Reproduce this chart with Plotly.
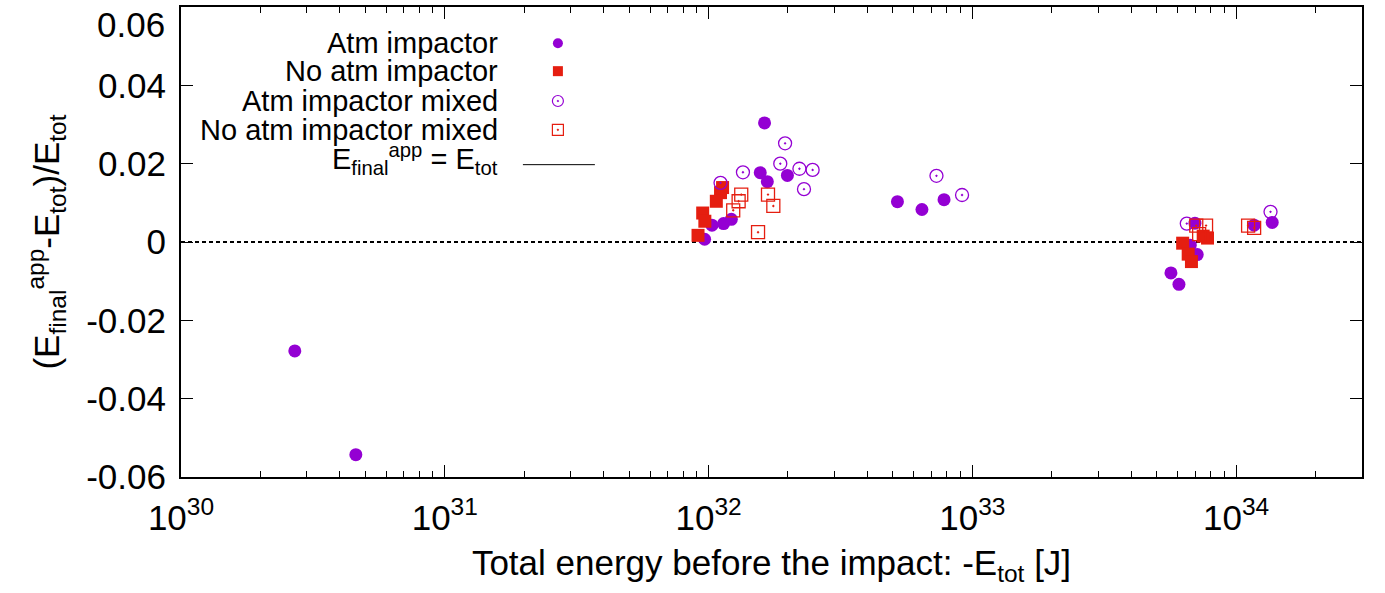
import plotly.graph_objects as go
import numpy as np

PURPLE = "#9400d3"
RED = "#e51e10"

# Atm impactor (filled circles)
atm_x = [2.7e30, 4.6e30, 1.63e32, 1.57e32, 1.67e32, 1.99e32, 1.03e32, 1.14e32, 1.22e32, 9.66e31,
         5.2e32, 6.44e32, 7.81e32,
         5.66e33, 6.07e33, 7.12e33, 6.98e33, 6.7e33, 1.37e34, 1.17e34]
atm_y = [-0.0278, -0.0543, 0.0304, 0.0177, 0.0154, 0.0170, 0.0043, 0.0047, 0.0058, 0.0007,
         0.0103, 0.0083, 0.0108,
         -0.0079, -0.0108, -0.0032, 0.0048, -0.0008, 0.0050, 0.0043]

# No atm impactor (filled squares)
noatm_x = [1.13e32, 1.11e32, 1.07e32, 9.5e31, 9.68e31, 9.12e31,
           6.27e33, 6.58e33, 6.77e33, 7.79e33, 7.5e33]
noatm_y = [0.0139, 0.0126, 0.0104, 0.0074, 0.0053, 0.0017,
           -0.0003, -0.0031, -0.0050, 0.0010, 0.0015]

# Atm impactor mixed (open circles)
atmmix_x = [1.95e32, 1.87e32, 2.21e32, 2.48e32, 2.30e32, 1.35e32, 1.11e32,
            7.31e32, 9.14e32,
            6.5e33, 1.35e34]
atmmix_y = [0.0252, 0.0200, 0.0187, 0.0184, 0.0135, 0.0178, 0.0151,
            0.0169, 0.0120,
            0.0047, 0.0077]

# No atm impactor mixed (open squares)
noatmmix_x = [1.33e32, 1.30e32, 1.24e32, 1.68e32, 1.76e32, 1.54e32,
              7.06e33, 7.69e33, 7.24e33, 1.11e34, 1.17e34]
noatmmix_y = [0.0121, 0.0104, 0.0081, 0.0121, 0.0092, 0.0025,
              0.0042, 0.0042, 0.0020, 0.0042, 0.0036]

y_ticks = [0.06, 0.04, 0.02, 0, -0.02, -0.04, -0.06]
y_ticktext = ["0.06", "0.04", "0.02", "0", "-0.02", "-0.04", "-0.06"]
x_exps = [30, 31, 32, 33, 34]

legend_labels = ["Atm impactor", "No atm impactor", "Atm impactor mixed", "No atm impactor mixed",
                 "E<sub>final</sub><sup>app</sup> = E<sub>tot</sub>"]

FONT = "Liberation Sans, Arial, sans-serif"
FS = 35
LFS = 29

# plot area in pixels
W, H = 1385, 593
L, R, T, B = 181, 1362.3, 4.5, 477
PW, PH = R - L, B - T

fig = go.Figure()

fig.add_trace(go.Scatter(x=atm_x, y=atm_y, mode="markers", name="Atm impactor",
                         marker=dict(symbol="circle", size=13, color=PURPLE, line=dict(width=0))))
fig.add_trace(go.Scatter(x=noatm_x, y=noatm_y, mode="markers", name="No atm impactor",
                         marker=dict(symbol="square", size=13, color=RED, line=dict(width=0))))
fig.add_trace(go.Scatter(x=atmmix_x, y=atmmix_y, mode="markers", name="Atm impactor mixed",
                         marker=dict(symbol="circle-open-dot", size=13, color=PURPLE, line=dict(width=1.3, color=PURPLE))))
fig.add_trace(go.Scatter(x=noatmmix_x, y=noatmmix_y, mode="markers", name="No atm impactor mixed",
                         marker=dict(symbol="square-open-dot", size=13, color=RED, line=dict(width=1.3, color=RED))))

# zero line
fig.add_shape(type="line", xref="paper", x0=0, x1=1, yref="y", y0=0, y1=0,
              line=dict(color="black", width=1.8, dash="4px,3px"), layer="below")

# custom legend on overlay pixel axes
leg_rows = [41, 69, 99, 128, 163]
leg_sym_x = 558
leg_styles = [
    dict(symbol="circle", size=10, color=PURPLE, line=dict(width=0)),
    dict(symbol="square", size=10, color=RED, line=dict(width=0)),
    dict(symbol="circle-open-dot", size=11, color=PURPLE, line=dict(width=1.2, color=PURPLE)),
    dict(symbol="square-open-dot", size=11, color=RED, line=dict(width=1.2, color=RED)),
]
for i, st in enumerate(leg_styles):
    fig.add_trace(go.Scatter(x=[leg_sym_x], y=[leg_rows[i]], xaxis="x2", yaxis="y2",
                             mode="markers", marker=st, showlegend=False, hoverinfo="skip"))
for i, lab in enumerate(legend_labels):
    fig.add_annotation(x=500, y=leg_rows[i] if i < 4 else leg_rows[i] - 6, xref="x2", yref="y2",
                       text=lab, showarrow=False, xanchor="right", yanchor="middle",
                       font=dict(family=FONT, size=LFS, color="black"))
fig.add_shape(type="line", xref="x2", yref="y2", x0=523, x1=595, y0=leg_rows[4], y1=leg_rows[4],
              line=dict(color="black", width=1))

# top y tick label (shifted down so it stays inside the page)
fig.add_annotation(x=(166 - L) / PW, y=(B - 1) / PH, xref="paper", yref="paper", text=y_ticktext[0],
                   showarrow=False, xanchor="right", yanchor="top", borderpad=0,
                   font=dict(family=FONT, size=FS, color="black"))

fig.update_layout(
    width=W, height=H,
    margin=dict(l=L, r=W - R, t=T, b=H - B),
    paper_bgcolor="white", plot_bgcolor="white",
    showlegend=False,
    font=dict(family=FONT, size=FS, color="black"),
    xaxis=dict(type="log", range=[30, np.log10(3.0e34)],
               tickvals=[10.0 ** e for e in x_exps],
               ticktext=[f"10<sup>{e}</sup>" for e in x_exps],
               ticks="inside", ticklen=12, tickwidth=1, tickcolor="black",
               minor=dict(ticks="inside", ticklen=6, tickwidth=1, tickcolor="black", dtick="D1", showgrid=False),
               showline=True, linewidth=2, linecolor="black", mirror="allticks",
               showgrid=False, zeroline=False,
               tickfont=dict(size=FS), ticklabelstandoff=9,
               title=dict(text="Total energy before the impact: -E<sub>tot</sub> [J]", font=dict(size=FS), standoff=14)),
    yaxis=dict(range=[-0.06, 0.06], tickvals=y_ticks, ticktext=[""] + y_ticktext[1:],
               ticks="inside", ticklen=12, tickwidth=1, tickcolor="black",
               showline=True, linewidth=2, linecolor="black", mirror="allticks",
               showgrid=False, zeroline=False,
               tickfont=dict(size=FS), ticklabelstandoff=6,
               title=dict(text="(E<sub>final</sub><sup>app</sup>-E<sub>tot</sub>)/E<sub>tot</sub>", font=dict(size=FS), standoff=16)),
    xaxis2=dict(overlaying="x", range=[L, R], visible=False, fixedrange=True),
    yaxis2=dict(overlaying="y", range=[B, T], visible=False, fixedrange=True),
)

fig.write_html("out.html")
